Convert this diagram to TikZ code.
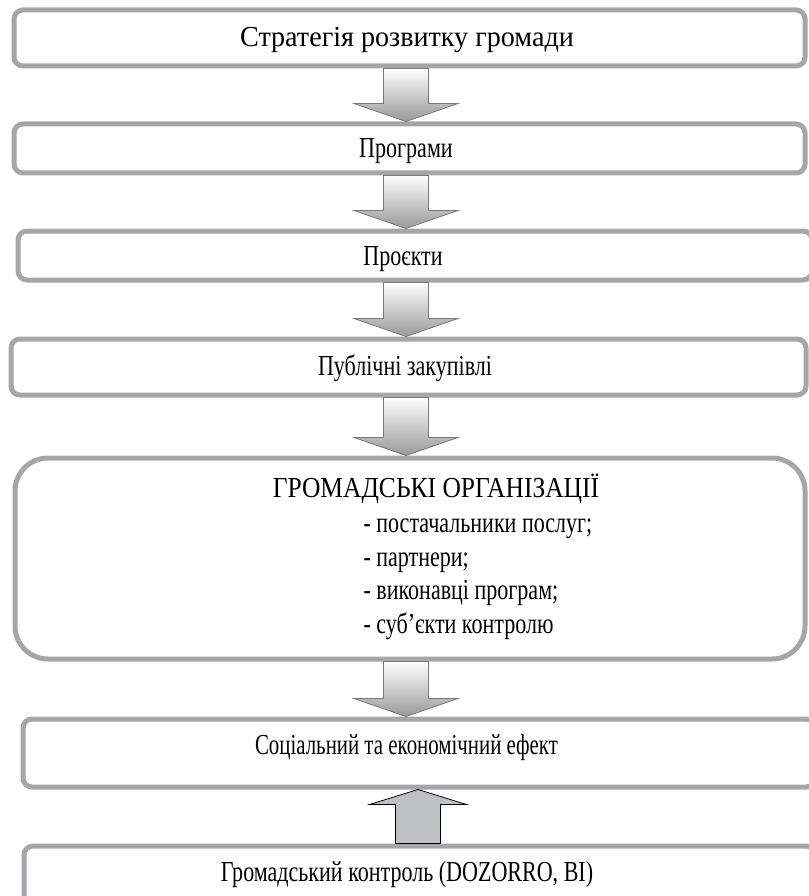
\documentclass[tikz,border=0pt]{standalone}
\usepackage{fontspec}
\setmainfont{Liberation Serif}[FakeStretch=0.76]
\newfontfamily\strategyfont{Liberation Serif}[FakeStretch=0.97]
\newfontfamily\titlefont{Liberation Serif}[FakeStretch=0.88]
\newfontfamily\effectfont{Liberation Serif}[FakeStretch=0.72]
\usetikzlibrary{calc}

\definecolor{boxgray}{RGB}{166,166,170}
\definecolor{upgray}{RGB}{191,192,196}
\definecolor{arrowedge}{RGB}{120,120,124}

\begin{document}
\begin{tikzpicture}[x=1pt,y=-1pt,%
  every node/.style={font=\fontsize{29}{33}\selectfont,anchor=base},%
  stage/.style={draw=boxgray,line width=5pt,fill=white,anchor=center,%
    rounded corners=9pt,inner sep=0pt,minimum width=791pt},%
  blockdown/.style={draw=arrowedge,line width=0.8pt,%
    top color=white,bottom color=gray!80,%
    to path={let \p1=(\tikztostart),\p2=(\tikztotarget) in
      ({\x1-22.5pt},\y1) -- ({\x1+22.5pt},\y1) -- ({\x1+22.5pt},{\y2+18pt})
      -- ({\x1+52pt},{\y2+18pt}) -- (\x1,\y2) -- ({\x1-52pt},{\y2+18pt})
      -- ({\x1-22.5pt},{\y2+18pt}) -- cycle}},%
  blockup/.style={draw=black,line width=0.8pt,fill=upgray,%
    to path={let \p1=(\tikztostart),\p2=(\tikztotarget) in
      ({\x1-22.5pt},\y1) -- ({\x1+22.5pt},\y1) -- ({\x1+22.5pt},{\y2-15pt})
      -- ({\x1+48.5pt},{\y2-15pt}) -- (\x1,\y2) -- ({\x1-48.5pt},{\y2-15pt})
      -- ({\x1-22.5pt},{\y2-15pt}) -- cycle}}]

  \useasboundingbox (0,0) rectangle (808,896);

  % stages
  \node [stage,minimum height=56pt] (strategy) at (409.5,38) {};
  \node [stage,minimum height=49pt] (programs) at (409.5,148.5) {};
  \node [stage,minimum height=49pt,minimum width=794pt] (projects) at (415,255.5) {};
  \node [stage,minimum height=56pt,minimum width=795pt] (procurement) at (408.5,367) {};
  \node [stage,minimum height=201pt,minimum width=790pt,rounded corners=33pt] (ngo) at (410,558.5) {};
  \node [stage,minimum height=68pt,minimum width=792pt] (effect) at (419,753) {};
  \node [stage,minimum height=64pt] (control) at (419.5,878) {};

  % texts
  \node (strategy-text) at (407,47) {\strategyfont Стратегія розвитку громади};
  \node (programs-text) at (406,157.5) {Програми};
  \node (projects-text) at (403,265) {Проєкти};
  \node (procurement-text) at (405,375.5) {Публічні закупівлі};
  \node (ngo-title) at (436,497) {\titlefont ГРОМАДСЬКІ ОРГАНІЗАЦІЇ};
  \node [anchor=base west] (ngo-suppliers) at (360,532) {- постачальники послуг;};
  \node [anchor=base west] (ngo-partners) at (360,566) {- партнери;};
  \node [anchor=base west] (ngo-executors) at (360,599) {- виконавці програм;};
  \node [anchor=base west] (ngo-control) at (360,633) {- суб’єкти контролю};
  \node (effect-text) at (406.5,754) {\effectfont Соціальний та економічний ефект};
  \node (control-text) at (407,881) {Громадський контроль (DOZORRO, BI)};

  % arrows
  \coordinate (downaxis) at (406,0);
  \coordinate (upaxis) at (418,0);
  \draw [blockdown] (strategy.south -| downaxis) to (programs.north -| downaxis);
  \draw [blockdown] (programs.south -| downaxis) to (projects.north -| downaxis);
  \draw [blockdown] (projects.south -| downaxis) to (procurement.north -| downaxis);
  \draw [blockdown] (procurement.south -| downaxis) to (ngo.north -| downaxis);
  \draw [blockdown] (ngo.south -| downaxis) to (effect.north -| downaxis);
  \draw [blockup] (control.north -| upaxis) to (effect.south -| upaxis);
\end{tikzpicture}
\end{document}
